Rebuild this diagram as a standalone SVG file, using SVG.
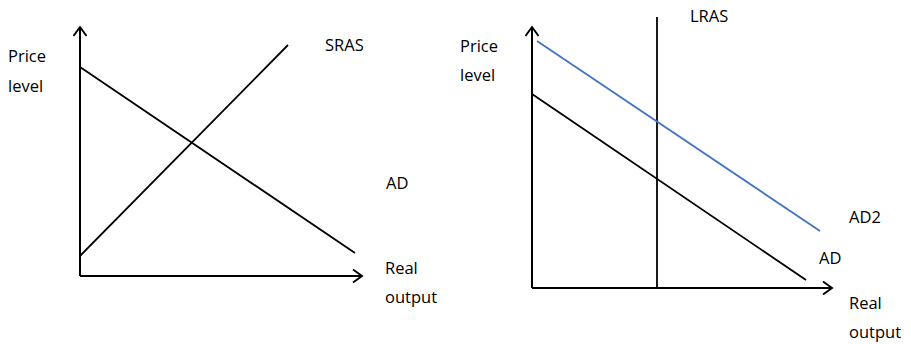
<svg xmlns="http://www.w3.org/2000/svg" width="911" height="344" viewBox="0 0 911 344">
<style>
  text { font-family: "Open Sans", "Liberation Sans", Arial, sans-serif; font-size: 16.5px; fill: #000; }
  .ln { stroke: #000; stroke-width: 1.8; fill: none; }
  .blue { stroke: #4472C4; stroke-width: 1.8; fill: none; }
  .ax { stroke: #000; stroke-width: 2; fill: none; }
</style>
<defs>
  <marker id="arr" markerWidth="12" markerHeight="14" refX="10" refY="7" orient="auto" markerUnits="userSpaceOnUse">
    <path d="M1,0.5 L10,7 L1,13.5" fill="none" stroke="#000" stroke-width="1.9"/>
  </marker>
</defs>
<rect width="911" height="344" fill="#fff"/>

<g id="left-chart">
  <g id="left-axes">
    <line class="ax" x1="80" y1="276" x2="80" y2="27" marker-end="url(#arr)"/>
    <line class="ax" x1="80" y1="276" x2="362" y2="276" marker-end="url(#arr)"/>
  </g>
  <g id="left-curves">
    <line class="ln" x1="80" y1="67" x2="355" y2="253"/>
    <line class="ln" x1="80" y1="256" x2="288" y2="45"/>
  </g>
  <g id="left-labels">
    <text x="8" y="62">Price</text>
    <text x="8" y="92">level</text>
    <text x="325" y="51">SRAS</text>
    <text x="386" y="189">AD</text>
    <text x="385" y="274">Real</text>
    <text x="385" y="303">output</text>
  </g>
</g>

<g id="right-chart">
  <g id="right-axes">
    <line class="ax" x1="532" y1="288" x2="532" y2="27" marker-end="url(#arr)"/>
    <line class="ax" x1="532" y1="288" x2="832" y2="288" marker-end="url(#arr)"/>
  </g>
  <g id="right-curves">
    <line class="ln" x1="657" y1="17" x2="657" y2="288"/>
    <line class="blue" x1="537" y1="41" x2="820" y2="231"/>
    <line class="ln" x1="532" y1="94" x2="806" y2="280"/>
  </g>
  <g id="right-labels">
    <text x="460" y="52">Price</text>
    <text x="460" y="81">level</text>
    <text x="690" y="22">LRAS</text>
    <text x="849" y="223">AD2</text>
    <text x="819" y="264">AD</text>
    <text x="849" y="309">Real</text>
    <text x="849" y="338">output</text>
  </g>
</g>
</svg>
